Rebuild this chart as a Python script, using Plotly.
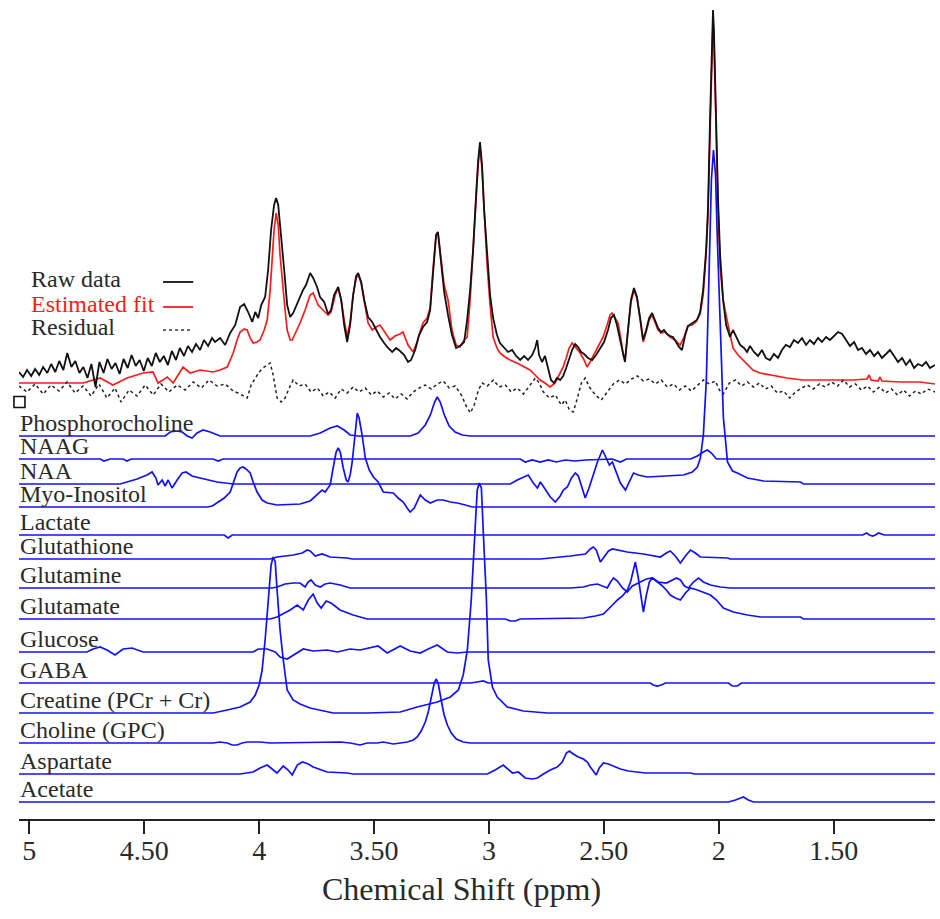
import plotly.graph_objects as go

# ---------------- data (ppm, intensity in arbitrary units) ----------------
TICK_VALS = [5, 4.5, 4, 3.5, 3, 2.5, 2, 1.5]
TICK_TEXT = ["5", "4.50", "4", "3.50", "3", "2.50", "2", "1.50"]
PPM_LEFT, PPM_RIGHT = 5.045, 1.059

RAW = [(5.045,447),(5.027,442),(5.010,449),(4.992,443),(4.975,450),(4.957,444),(4.940,452),(4.922,446),(4.905,455),(4.887,447),(4.870,458),(4.852,449),(4.835,466),(4.817,452),(4.800,458),(4.782,446),(4.765,452),(4.747,441),(4.730,455),(4.712,432),(4.695,457),(4.677,446),(4.660,460),(4.642,450),(4.625,456),(4.607,445),(4.590,460),(4.572,451),(4.555,464),(4.537,453),(4.520,459),(4.502,448),(4.485,461),(4.467,453),(4.450,466),(4.432,457),(4.415,463),(4.397,454),(4.380,468),(4.362,459),(4.345,471),(4.327,463),(4.310,473),(4.292,467),(4.275,475),(4.257,469),(4.240,479),(4.222,473),(4.205,481),
       (4.192,477),(4.170,481),(4.148,474),(4.126,486),(4.104,494),(4.083,512),(4.065,515),(4.048,507),(4.030,497),(4.017,507),(4.004,501),(3.991,514),(3.974,522),(3.961,549),(3.948,589),(3.935,614),(3.926,621),(3.917,614),(3.904,584),(3.891,549),(3.878,514),(3.865,502),(3.852,506),(3.839,513),(3.826,519),(3.809,529),(3.796,534),(3.778,546),(3.765,541),(3.748,532),(3.735,522),(3.717,517),(3.700,505),(3.687,509),(3.674,524),(3.656,532),(3.643,519),(3.630,494),(3.617,477),(3.604,494),(3.591,524),(3.578,543),(3.569,546),(3.556,537),(3.543,519),(3.526,502),(3.508,497),(3.491,489),(3.474,482),(3.456,476),(3.439,471),(3.421,467),(3.404,471),(3.387,468),(3.369,464),(3.352,457),(3.339,459),(3.321,469),(3.304,484),(3.287,492),(3.269,497),(3.256,509),(3.243,549),(3.230,584),(3.222,587),(3.208,559),(3.195,527),(3.178,504),(3.161,484),(3.143,471),(3.126,473),(3.108,477),(3.095,499),(3.082,529),(3.069,569),(3.056,624),(3.047,659),(3.039,677),(3.030,654),(3.021,609),(3.008,564),(2.995,524),(2.982,501),(2.965,484),(2.952,476),(2.934,471),(2.917,467),(2.899,469),(2.882,463),(2.864,459),(2.847,463),(2.830,459),(2.812,464),(2.799,471),(2.790,479),(2.782,464),(2.769,457),(2.756,463),(2.743,451),(2.730,439),(2.717,436),(2.704,441),(2.690,439),(2.677,443),(2.664,451),(2.651,461),(2.638,469),(2.625,475),(2.612,472),(2.599,467),(2.586,465),(2.569,461),(2.551,459),(2.534,464),(2.516,471),(2.499,477),(2.482,489),(2.469,501),(2.456,504),(2.443,494),(2.429,479),(2.416,464),(2.408,457),(2.395,489),(2.382,519),(2.369,531),(2.356,522),(2.342,501),(2.329,479),(2.316,489),(2.303,501),(2.290,506),(2.277,499),(2.264,491),(2.251,487),(2.238,489),(2.225,485),(2.212,483),(2.199,482),(2.186,477),(2.173,472),(2.160,469),(2.147,483),(2.134,493),(2.121,495),(2.108,497),(2.095,499),(2.081,507),(2.068,529),(2.055,569),(2.047,609),(2.038,699),(2.029,779),(2.025,809),(2.021,789),(2.012,699),(2.003,619),(1.994,564),(1.981,519),(1.968,494),(1.951,482),(1.938,489),(1.925,483),(1.907,474),(1.890,471),(1.877,467),(1.864,473),(1.847,467),(1.829,463),(1.812,469),(1.795,461),(1.777,459),(1.760,465),(1.742,461),(1.725,469),(1.708,474),(1.690,472),(1.673,479),(1.655,476),(1.638,481),(1.620,474),(1.603,479),(1.586,475),(1.568,481),(1.551,477),(1.533,482),(1.516,479),(1.498,483),(1.481,487),(1.463,485),(1.446,479),(1.429,473),(1.411,477),(1.394,469),(1.377,471),(1.359,465),(1.342,469),(1.324,463),(1.307,467),(1.290,461),(1.272,465),(1.255,469),(1.237,463),(1.220,457),(1.202,461),(1.185,454),(1.168,459),(1.150,451),(1.133,455),(1.115,453),(1.098,457),(1.081,451),(1.059,454)]

FIT = [(5.045,436),(4.953,436),(4.866,436),(4.766,436),(4.692,441),(4.636,434),(4.575,441),(4.505,446),(4.462,447),(4.440,436),(4.418,439),(4.400,442),(4.374,436),(4.353,444),(4.331,452),(4.300,446),(4.257,449),(4.200,447),(4.170,449),(4.139,452),(4.113,466),(4.096,479),(4.083,487),(4.065,490),(4.052,489),(4.039,481),(4.026,476),(4.009,477),(3.996,479),(3.978,489),(3.965,499),(3.952,529),(3.943,556),(3.935,589),(3.926,606),(3.917,594),(3.909,564),(3.900,539),(3.887,509),(3.878,489),(3.865,479),(3.856,479),(3.839,487),(3.822,496),(3.800,509),(3.778,524),(3.765,526),(3.743,514),(3.722,509),(3.700,504),(3.687,507),(3.669,524),(3.656,531),(3.643,519),(3.630,499),(3.617,482),(3.604,497),(3.591,524),(3.578,541),(3.569,544),(3.556,536),(3.543,519),(3.526,496),(3.508,489),(3.491,492),(3.474,494),(3.452,486),(3.430,479),(3.409,483),(3.387,485),(3.374,487),(3.352,474),(3.330,467),(3.313,477),(3.300,487),(3.287,496),(3.269,501),(3.256,511),(3.243,551),(3.230,584),(3.222,587),(3.208,561),(3.195,534),(3.178,519),(3.161,489),(3.143,474),(3.126,472),(3.108,479),(3.095,482),(3.082,519),(3.069,564),(3.056,619),(3.047,654),(3.039,671),(3.030,649),(3.021,604),(3.008,554),(2.995,514),(2.982,482),(2.965,471),(2.952,466),(2.930,462),(2.908,459),(2.878,456),(2.852,453),(2.821,449),(2.799,444),(2.777,439),(2.756,436),(2.734,432),(2.712,436),(2.690,447),(2.677,452),(2.664,461),(2.651,471),(2.638,476),(2.621,471),(2.603,466),(2.586,459),(2.573,452),(2.560,457),(2.538,467),(2.516,477),(2.503,482),(2.486,494),(2.473,504),(2.464,506),(2.451,501),(2.438,496),(2.425,479),(2.416,464),(2.408,459),(2.395,489),(2.382,517),(2.369,529),(2.356,521),(2.342,499),(2.329,477),(2.316,487),(2.303,499),(2.290,504),(2.277,497),(2.264,489),(2.251,486),(2.234,487),(2.212,482),(2.190,479),(2.168,474),(2.151,482),(2.134,493),(2.116,494),(2.099,497),(2.081,505),(2.068,524),(2.055,564),(2.047,604),(2.038,689),(2.029,769),(2.025,799),(2.021,779),(2.012,689),(2.003,609),(1.994,552),(1.981,519),(1.964,499),(1.951,484),(1.938,471),(1.916,464),(1.894,459),(1.873,454),(1.851,449),(1.820,446),(1.777,444),(1.703,441),(1.634,439),(1.559,439),(1.472,439),(1.416,439),(1.355,440),(1.346,444),(1.337,439),(1.307,438),(1.298,442),(1.290,438),(1.211,437),(1.124,437),(1.059,435)]

RESIDUAL = [(5.045,433),(5.010,427),(4.975,435),(4.940,425),(4.906,434),(4.871,428),(4.836,437),(4.801,426),(4.766,433),(4.731,423),(4.697,435),(4.662,421),(4.627,431),(4.601,417),(4.566,429),(4.531,423),(4.496,434),(4.461,424),(4.427,435),(4.392,427),(4.357,434),(4.322,429),(4.287,437),(4.252,431),(4.218,439),(4.183,433),(4.148,435),(4.113,428),(4.083,425),(4.052,421),(4.035,434),(4.017,441),(4.000,447),(3.983,451),(3.965,454),(3.952,456),(3.939,444),(3.922,421),(3.904,417),(3.887,421),(3.869,431),(3.852,439),(3.826,433),(3.800,435),(3.774,427),(3.747,431),(3.721,423),(3.695,427),(3.669,421),(3.643,430),(3.617,426),(3.591,432),(3.565,427),(3.538,431),(3.512,424),(3.486,428),(3.460,422),(3.434,426),(3.408,420),(3.382,425),(3.356,420),(3.329,427),(3.303,431),(3.277,434),(3.251,430),(3.225,435),(3.199,438),(3.173,431),(3.147,433),(3.120,424),(3.099,413),(3.081,406),(3.064,414),(3.046,429),(3.029,436),(3.007,433),(2.981,439),(2.955,432),(2.929,434),(2.903,427),(2.877,431),(2.850,425),(2.824,433),(2.798,441),(2.781,436),(2.763,427),(2.737,421),(2.711,424),(2.685,414),(2.668,419),(2.650,409),(2.633,407),(2.615,421),(2.598,436),(2.581,441),(2.563,432),(2.537,424),(2.511,419),(2.485,427),(2.459,435),(2.432,439),(2.406,435),(2.380,440),(2.354,443),(2.328,438),(2.302,440),(2.276,435),(2.250,439),(2.224,432),(2.197,435),(2.171,429),(2.145,433),(2.119,428),(2.093,434),(2.067,439),(2.041,435),(2.015,438),(1.997,429),(1.980,425),(1.954,436),(1.927,439),(1.901,433),(1.875,437),(1.849,432),(1.823,436),(1.797,430),(1.771,433),(1.745,426),(1.718,428),(1.692,421),(1.666,427),(1.640,431),(1.614,434),(1.588,430),(1.562,435),(1.536,432),(1.509,437),(1.483,433),(1.457,439),(1.431,432),(1.405,435),(1.379,429),(1.353,433),(1.327,427),(1.300,432),(1.274,426),(1.248,430),(1.222,424),(1.196,429),(1.170,423),(1.144,428),(1.118,425),(1.092,430),(1.057,427)]

# metabolite basis spectra: (ppm, intensity above their own baseline)
PHOSPHOROCHOLINE = [(5.045,0),(4.409,0),(4.387,4),(4.361,5),(4.335,4),(4.313,0),(4.292,-2),(4.270,3),(4.244,6),(4.213,4),(4.170,0),(3.778,0),(3.734,3),(3.691,8),(3.660,10),(3.630,6),(3.604,1),(3.569,0),(3.342,0),(3.308,3),(3.277,11),(3.255,21),(3.238,33),(3.225,39),(3.212,34),(3.194,21),(3.173,10),(3.147,4),(3.116,1),(3.081,0),(1.059,0)]
NAAG = [(5.045,0),(4.692,0),(4.675,-2),(4.649,0),(4.592,0),(4.575,-2),(4.557,0),(4.200,0),(4.178,-2),(4.157,0),(2.864,0),(2.842,-3),(2.811,-1),(2.777,-3),(2.742,-1),(2.707,-3),(2.668,-1),(2.624,-2),(2.581,-1),(2.463,0),(2.428,-3),(2.402,0),(2.123,0),(2.093,3),(2.067,7),(2.049,9),(2.032,6),(2.010,0),(1.059,0)]
NAA = [(5.045,0),(4.605,0),(4.575,2),(4.531,5),(4.488,9),(4.466,12),(4.449,6),(4.440,-1),(4.422,4),(4.409,-2),(4.396,4),(4.379,-4),(4.357,4),(4.335,11),(4.318,12),(4.292,8),(4.257,6),(4.213,4),(4.183,2),(4.113,0),(2.907,0),(2.877,4),(2.850,7),(2.829,9),(2.807,1),(2.789,-4),(2.776,2),(2.755,-6),(2.733,-13),(2.711,-18),(2.690,-12),(2.676,-6),(2.659,-3),(2.641,6),(2.624,11),(2.611,8),(2.594,-6),(2.581,-14),(2.563,-3),(2.546,9),(2.528,22),(2.506,34),(2.489,26),(2.476,19),(2.463,22),(2.446,12),(2.428,1),(2.406,-6),(2.389,2),(2.371,11),(2.350,9),(2.311,7),(2.232,8),(2.154,9),(2.115,12),(2.093,17),(2.080,26),(2.067,49),(2.054,104),(2.041,224),(2.032,304),(2.023,334),(2.014,309),(2.006,244),(1.993,151),(1.980,67),(1.962,22),(1.940,13),(1.919,11),(1.875,6),(1.805,3),(1.644,2),(1.631,0),(1.059,0)]
MYO_INOSITOL = [(5.045,0),(4.226,0),(4.204,1),(4.183,4),(4.152,9),(4.126,15),(4.109,27),(4.096,35),(4.083,39),(4.070,40),(4.057,38),(4.039,34),(4.026,25),(4.009,15),(3.987,7),(3.965,4),(3.922,2),(3.822,3),(3.778,6),(3.747,12),(3.726,17),(3.713,15),(3.700,19),(3.691,22),(3.678,39),(3.665,55),(3.656,59),(3.647,55),(3.634,39),(3.621,27),(3.613,25),(3.604,32),(3.595,45),(3.586,67),(3.578,89),(3.573,94),(3.565,89),(3.552,72),(3.538,49),(3.521,37),(3.503,30),(3.482,25),(3.460,15),(3.416,14),(3.395,9),(3.373,5),(3.356,-1),(3.343,-5),(3.325,-1),(3.299,12),(3.277,7),(3.255,4),(3.225,7),(3.199,7),(3.168,5),(3.138,4),(3.103,2),(3.072,0),(1.059,0)]
LACTATE = [(5.045,0),(4.152,0),(4.135,-3),(4.117,0),(1.374,0),(1.357,2),(1.344,0),(1.331,-1),(1.318,0),(1.305,2),(1.279,0),(1.059,0)]
GLUTATHIONE = [(5.045,0),(3.952,0),(3.922,2),(3.887,3),(3.852,4),(3.812,6),(3.791,9),(3.778,8),(3.756,3),(3.726,5),(3.691,2),(3.617,1),(3.595,0),(2.776,0),(2.720,1),(2.646,3),(2.580,5),(2.559,10),(2.546,12),(2.533,9),(2.515,-3),(2.498,3),(2.480,8),(2.463,10),(2.398,7),(2.328,5),(2.254,2),(2.228,6),(2.211,8),(2.189,3),(2.167,-4),(2.145,3),(2.123,9),(2.102,6),(2.080,2),(1.962,1),(1.949,0),(1.059,0)]
GLUTAMINE = [(5.045,0),(3.943,0),(3.922,1),(3.887,4),(3.852,5),(3.822,5),(3.800,1),(3.787,6),(3.774,8),(3.756,3),(3.734,1),(3.713,4),(3.691,5),(3.647,3),(3.604,0),(2.646,0),(2.589,1),(2.559,3),(2.528,4),(2.502,2),(2.485,0),(2.471,6),(2.458,10),(2.441,7),(2.419,0),(2.398,-4),(2.376,2),(2.341,6),(2.315,9),(2.289,10),(2.263,6),(2.228,5),(2.202,8),(2.184,10),(2.167,8),(2.149,2),(2.132,0),(2.110,6),(2.088,10),(2.067,6),(2.036,3),(1.993,1),(1.949,0),(1.059,0)]
GLUTAMATE = [(5.045,0),(3.952,0),(3.922,2),(3.865,9),(3.834,14),(3.808,9),(3.786,19),(3.765,25),(3.747,16),(3.730,11),(3.708,18),(3.687,16),(3.648,9),(3.591,4),(3.530,0),(2.929,0),(2.907,-2),(2.885,-2),(2.864,0),(2.589,1),(2.537,3),(2.502,5),(2.471,12),(2.441,19),(2.419,23),(2.398,29),(2.384,37),(2.371,51),(2.363,57),(2.350,41),(2.337,19),(2.328,7),(2.315,24),(2.302,37),(2.289,41),(2.271,38),(2.250,34),(2.228,29),(2.211,24),(2.189,21),(2.167,19),(2.145,26),(2.123,31),(2.093,29),(2.067,27),(2.036,24),(2.010,19),(1.980,11),(1.936,7),(1.875,4),(1.818,2),(1.644,2),(1.631,0),(1.059,0)]
GLUCOSE = [(5.045,0),(4.749,0),(4.723,3),(4.692,5),(4.662,2),(4.627,-3),(4.592,3),(4.553,4),(4.505,0),(4.026,0),(4.004,3),(3.965,3),(3.930,0),(3.909,-5),(3.878,-7),(3.852,-3),(3.808,3),(3.765,1),(3.704,2),(3.660,0),(3.604,3),(3.561,2),(3.517,4),(3.482,6),(3.443,-1),(3.408,3),(3.386,6),(3.343,1),(3.299,-1),(3.264,3),(3.225,7),(3.181,0),(3.138,-1),(3.094,0),(1.059,0)]
GABA = [(5.045,0),(3.081,0),(3.051,1),(3.025,2),(3.003,0),(2.298,0),(2.285,-2),(2.267,-3),(2.250,-2),(2.232,0),(1.958,0),(1.941,-3),(1.919,-3),(1.901,0),(1.059,0)]
CREATINE = [(5.045,0),(4.200,0),(4.139,3),(4.083,6),(4.039,11),(4.017,18),(4.000,28),(3.987,43),(3.974,73),(3.961,113),(3.948,148),(3.939,156),(3.930,151),(3.922,123),(3.909,83),(3.895,53),(3.878,23),(3.852,13),(3.822,9),(3.778,5),(3.678,0),(3.530,0),(3.386,1),(3.312,6),(3.225,11),(3.168,16),(3.133,23),(3.112,38),(3.094,63),(3.077,113),(3.064,173),(3.051,223),(3.042,230),(3.033,225),(3.025,183),(3.011,113),(3.003,53),(2.985,26),(2.964,16),(2.920,6),(2.850,2),(2.746,0),(1.065,0)]
CHOLINE_GPC = [(5.045,0),(4.200,0),(4.170,1),(4.139,0),(4.117,-2),(4.096,-2),(4.074,0),(4.052,1),(3.996,1),(3.952,0),(3.647,1),(3.604,0),(3.561,-2),(3.530,0),(3.486,0),(3.460,1),(3.416,-1),(3.386,0),(3.355,1),(3.329,3),(3.312,6),(3.295,12),(3.277,21),(3.264,31),(3.251,46),(3.238,60),(3.229,64),(3.220,59),(3.208,43),(3.195,28),(3.181,18),(3.164,10),(3.142,4),(3.112,1),(3.081,0),(1.059,0)]
ASPARTATE = [(5.045,0),(4.083,0),(4.026,2),(3.996,6),(3.965,9),(3.943,5),(3.922,1),(3.895,8),(3.874,4),(3.856,-1),(3.834,9),(3.812,12),(3.786,10),(3.765,7),(3.704,2),(3.617,1),(3.591,0),(3.007,0),(2.973,4),(2.938,9),(2.916,5),(2.898,1),(2.872,2),(2.855,-2),(2.842,-4),(2.811,-5),(2.789,-4),(2.763,0),(2.733,4),(2.703,7),(2.681,12),(2.663,21),(2.650,23),(2.633,20),(2.611,17),(2.589,15),(2.572,12),(2.559,7),(2.541,1),(2.533,-1),(2.520,6),(2.502,11),(2.480,10),(2.459,8),(2.428,5),(2.393,3),(2.354,2),(2.319,1),(2.123,1),(2.106,0),(1.059,0)]
ACETATE = [(5.045,0),(1.958,0),(1.927,2),(1.893,5),(1.871,2),(1.849,0),(1.059,0)]

METABOLITE_NAMES = ["Phosphorocholine", "NAAG", "NAA", "Myo-Inositol", "Lactate", "Glutathione",
                    "Glutamine", "Glutamate", "Glucose", "GABA", "Creatine (PCr + Cr)",
                    "Choline (GPC)", "Aspartate", "Acetate"]
METABOLITE_SPECTRA = [PHOSPHOROCHOLINE, NAAG, NAA, MYO_INOSITOL, LACTATE, GLUTATHIONE,
                      GLUTAMINE, GLUTAMATE, GLUCOSE, GABA, CREATINE, CHOLINE_GPC, ASPARTATE, ACETATE]
METABOLITE_OFFSETS = [383, 360, 335, 312, 284, 260, 231, 200, 167, 136, 106, 76, 45, 17]

LEGEND_LABELS = ["Raw data", "Estimated fit", "Residual"]

# ---------------- styling ----------------
FONT = "Liberation Serif, Times New Roman, serif"
TEXT_COLOR = "#2a2a2a"
BLUE = "#1010ff"

fig = go.Figure()

def unzip(pairs):
    return [p[0] for p in pairs], [p[1] for p in pairs]

fx, fy = unzip(FIT)
fig.add_trace(go.Scatter(x=fx, y=fy, mode="lines", line=dict(color="#ff1a1a", width=1.7),
                         showlegend=False, hoverinfo="skip"))
rx, ry = unzip(RAW)
fig.add_trace(go.Scatter(x=rx, y=ry, mode="lines", line=dict(color="#111111", width=1.8),
                         showlegend=False, hoverinfo="skip"))
sx, sy = unzip(RESIDUAL)
fig.add_trace(go.Scatter(x=sx, y=sy, mode="lines", line=dict(color="#222222", width=1.5, dash="dot"),
                         showlegend=False, hoverinfo="skip"))

annotations = []
for name, spec, off in zip(METABOLITE_NAMES, METABOLITE_SPECTRA, METABOLITE_OFFSETS):
    mx, my = unzip(spec)
    fig.add_trace(go.Scatter(x=mx, y=[v + off for v in my], mode="lines",
                             line=dict(color=BLUE, width=1.7), showlegend=False, hoverinfo="skip"))
    annotations.append(dict(x=PPM_LEFT, y=off - 2, xref="x", yref="y", text=name, showarrow=False,
                            xanchor="left", yanchor="bottom", xshift=-1,
                            font=dict(family=FONT, size=24, color=TEXT_COLOR)))

# small open square marker at the left edge
fig.add_trace(go.Scatter(x=[5.043], y=[417], mode="markers", cliponaxis=False,
                         marker=dict(symbol="square-open", size=11, color="#111", line=dict(width=1.6)),
                         showlegend=False, hoverinfo="skip"))

# legend block (text then line sample)
legend_y = [525, 500, 477]
legend_line_y = [537, 512, 489]
legend_colors = [TEXT_COLOR, "#ff1a1a", TEXT_COLOR]
legend_styles = [dict(color="#111", width=1.8), dict(color="#ff1a1a", width=1.8),
                 dict(color="#333", width=1.4, dash="dot")]
shapes = []
for lab, ly, lly, col, sty in zip(LEGEND_LABELS, legend_y, legend_line_y, legend_colors, legend_styles):
    annotations.append(dict(x=5.0, y=ly, xref="x", yref="y", text=lab, showarrow=False,
                            xanchor="left", yanchor="bottom",
                            font=dict(family=FONT, size=24, color=col)))
    shapes.append(dict(type="line", xref="x", yref="y", x0=4.418, x1=4.287, y0=lly, y1=lly, line=sty))

annotations.append(dict(x=3.12, y=-0.0854, xref="x", yref="paper", text="Chemical Shift (ppm)",
                        showarrow=False, xanchor="center", yanchor="middle",
                        font=dict(family=FONT, size=32, color=TEXT_COLOR)))

fig.update_layout(
    width=940, height=919,
    margin=dict(l=19, r=5, t=5, b=100),
    paper_bgcolor="white", plot_bgcolor="white",
    showlegend=False,
    annotations=annotations,
    shapes=shapes,
    xaxis=dict(range=[PPM_LEFT, PPM_RIGHT], tickvals=TICK_VALS, ticktext=TICK_TEXT,
               showgrid=False, zeroline=False, showline=True, linecolor="#222", linewidth=2,
               ticks="outside", ticklen=13, tickwidth=1.5, tickcolor="#222",
               ticklabelstandoff=-8,
               tickfont=dict(family=FONT, size=28, color=TEXT_COLOR)),
    yaxis=dict(range=[0, 814], visible=False, showgrid=False, zeroline=False),
)

fig.write_html("out.html", config={"displayModeBar": False},
               post_script="document.body.style.margin='0';document.body.style.overflow='hidden';")
